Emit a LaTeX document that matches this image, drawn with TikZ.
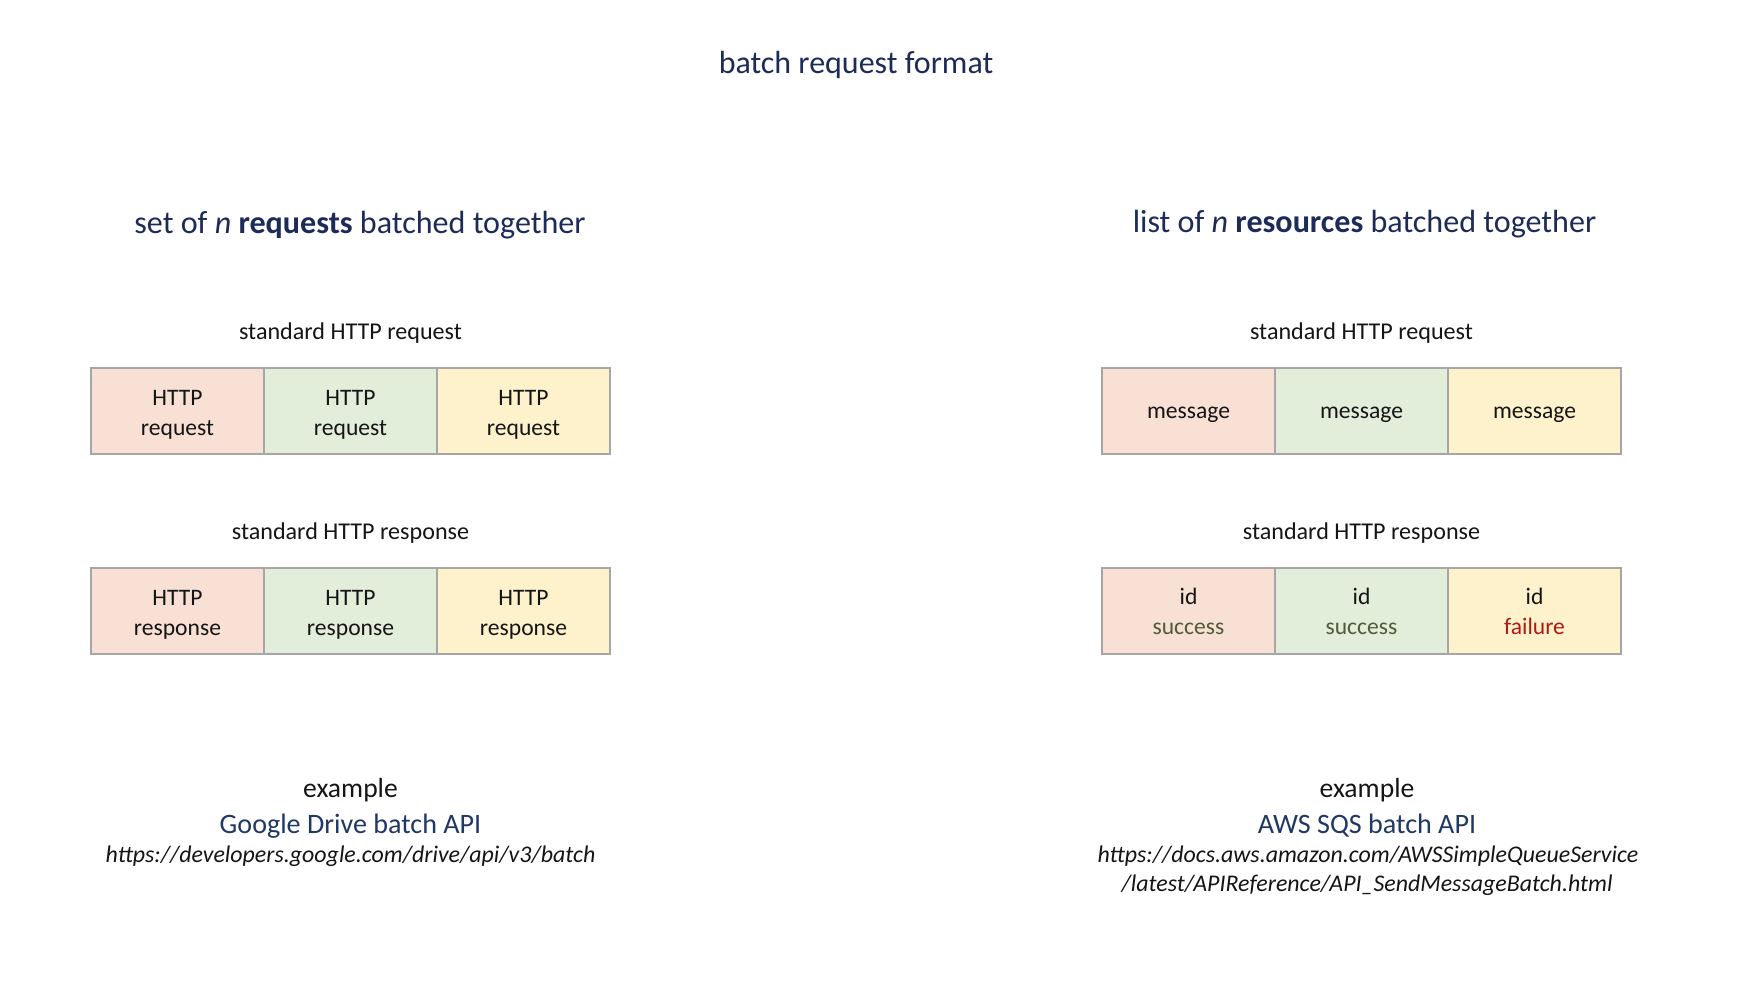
\documentclass[tikz,border=0pt]{standalone}
\usepackage{fontspec}
\setmainfont{Carlito}
\definecolor{navy}{HTML}{1D2B59}
\definecolor{linkblue}{HTML}{203864}
\definecolor{peach}{HTML}{F8E1D4}
\definecolor{mint}{HTML}{E2EDDA}
\definecolor{cream}{HTML}{FEF2CD}
\definecolor{edge}{HTML}{A6A6A6}
\definecolor{okgreen}{HTML}{4F5B3A}
\definecolor{badred}{HTML}{B01A12}
\definecolor{ink}{HTML}{151515}
\begin{document}
\begin{tikzpicture}[x=1pt,y=-1pt,
  txt/.style={inner sep=0pt, anchor=base, text=ink},
  title/.style={txt, text=navy, font=\fontsize{32}{38}\selectfont},
  head/.style={txt, text=navy, font=\fontsize{32.1}{38}\selectfont},
  lbl/.style={txt, font=\fontsize{24.1}{28}\selectfont},
  cell/.style={draw=edge, line width=2.4pt, minimum width=173pt, minimum height=86pt,
    inner sep=0pt, align=center, text=ink, font=\fontsize{23.6}{30}\selectfont},
  celltext/.style={yshift=-4pt},
  idtext/.style={yshift=-0.8pt},
  ex/.style={txt, font=\fontsize{27.6}{32}\selectfont},
  api/.style={txt, text=linkblue, font=\fontsize{28.1}{32}\selectfont},
  url/.style={txt, font=\fontsize{23.9}{28}\selectfont\itshape}
]
\useasboundingbox (0,0) rectangle (1748,982);
\fill[white] (0,0) rectangle (1748,982);

\node[title] (t) at (856,74) {batch request format};

\node[head] (hl) at (360,233.5) {set of \textit{n} \textbf{requests} batched together};
\node[head] (hr) at (1364.5,232.5) {list of \textit{n} \textbf{resources} batched together};

% left
\node[lbl] (lreq) at (350.5,339.5) {standard HTTP request};
\node[cell, fill=peach] (l1) at (177.5,411) {};
\node[cell, fill=mint]  (l2) at (350.5,411) {};
\node[cell, fill=cream] (l3) at (523.5,411) {};
\node[cell, draw=none, celltext] (l1t) at (l1) {HTTP\\request};
\node[cell, draw=none, celltext] (l2t) at (l2) {HTTP\\request};
\node[cell, draw=none, celltext] (l3t) at (l3) {HTTP\\request};

\node[lbl] (lres) at (350.5,539.5) {standard HTTP response};
\node[cell, fill=peach] (l4) at (177.5,611) {};
\node[cell, fill=mint]  (l5) at (350.5,611) {};
\node[cell, fill=cream] (l6) at (523.5,611) {};
\node[cell, draw=none, celltext] (l4t) at (l4) {HTTP\\response};
\node[cell, draw=none, celltext] (l5t) at (l5) {HTTP\\response};
\node[cell, draw=none, celltext] (l6t) at (l6) {HTTP\\response};

% right
\node[lbl] (rreq) at (1361.5,339.5) {standard HTTP request};
\node[cell, fill=peach] (r1) at (1188.5,411) {};
\node[cell, fill=mint]  (r2) at (1361.5,411) {};
\node[cell, fill=cream] (r3) at (1534.5,411) {};
\node[cell, draw=none, celltext] (r1t) at (r1) {message};
\node[cell, draw=none, celltext] (r2t) at (r2) {message};
\node[cell, draw=none, celltext] (r3t) at (r3) {message};

\node[lbl] (rres) at (1361.5,539.5) {standard HTTP response};
\node[cell, fill=peach] (r4) at (1188.5,611) {};
\node[cell, fill=mint]  (r5) at (1361.5,611) {};
\node[cell, fill=cream] (r6) at (1534.5,611) {};
\node[cell, draw=none, idtext] (r4t) at (r4) {id\\\textcolor{okgreen}{success}};
\node[cell, draw=none, idtext] (r5t) at (r5) {id\\\textcolor{okgreen}{success}};
\node[cell, draw=none, idtext] (r6t) at (r6) {id\\\textcolor{badred}{failure}};

% examples
\node[ex]  (le) at (350.5,797.5) {example};
\node[api] (la) at (350.5,833) {Google Drive batch API};
\node[url] (lu) at (350.5,862) {https://developers.google.com/drive/api/v3/batch};

\node[ex]  (re) at (1367,797.5) {example};
\node[api] (ra) at (1367,833) {AWS SQS batch API};
\node[url] (ru1) at (1368,862) {https://docs.aws.amazon.com/AWSSimpleQueueService};
\node[url] (ru2) at (1367,891) {/latest/APIReference/API\_SendMessageBatch.html};
\end{tikzpicture}
\end{document}
